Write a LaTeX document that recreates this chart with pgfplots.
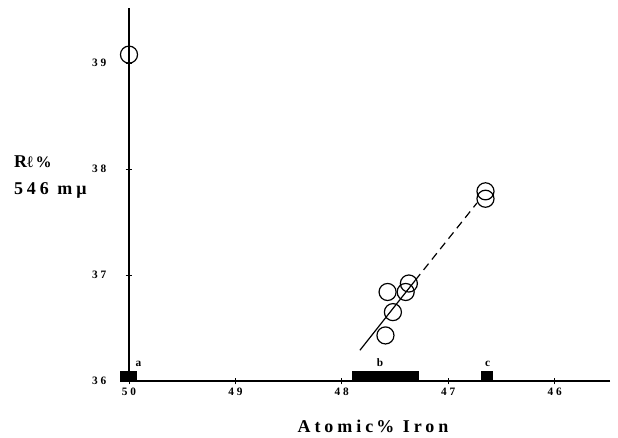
\documentclass[border=0pt]{standalone}
\usepackage{fontspec}
\setmainfont{Liberation Serif}
\usepackage{pgfplots}
\pgfplotsset{compat=1.18}
\newfontfamily\spaced[LetterSpace=22]{Liberation Serif}
\newfontfamily\tickf[LetterSpace=25]{Liberation Serif}

\begin{document}
\begin{tikzpicture}
\path[use as bounding box] (0,0) rectangle (463.5pt,328.5pt);
\begin{axis}[
    at={(96.75pt,42.75pt)}, anchor=south west,
    scale only axis, width=360.75pt, height=279.75pt,
    x dir=reverse,
    xmin=45.48, xmax=50, ymin=36, ymax=39.52,
    axis lines=left,
    axis line style={-},
    x axis line style={line width=1.6pt},
    y axis line style={line width=1pt},
    clip=false,
    xtick={50,49,48,47,46},
    xticklabels={50,49,48,47,46},
    ytick={36,37,38,39},
    tick align=center,
    major tick length=5pt,
    tick style={black, line width=0.6pt},
    tick label style={font=\tickf\bfseries\fontsize{8.5}{9}\selectfont},
    yticklabel style={xshift=-11pt},
    xticklabel style={yshift=1pt},
    /pgf/number format/assume math mode=true,
]
% composition ranges a, b, c
\addplot[fill=black, draw=black] coordinates {(50.085,36) (50.085,36.095) (49.93,36.095) (49.93,36)} -- cycle;
\addplot[fill=black, draw=black] coordinates {(47.90,36) (47.90,36.095) (47.28,36.095) (47.28,36)} -- cycle;
\addplot[fill=black, draw=black] coordinates {(46.69,36) (46.69,36.095) (46.59,36.095) (46.59,36)} -- cycle;
\node[font=\bfseries\fontsize{8.5}{9}\selectfont, anchor=south] at (axis cs:49.91,36.09) {a};
\node[font=\bfseries\fontsize{8.5}{9}\selectfont, anchor=south] at (axis cs:47.64,36.09) {b};
\node[font=\bfseries\fontsize{8.5}{9}\selectfont, anchor=south] at (axis cs:46.63,36.09) {c};
% fit lines
\addplot[black, line width=0.9pt] coordinates {(47.83,36.29) (47.31,36.95)};
\addplot[black, line width=0.9pt, dash pattern=on 6pt off 4pt] coordinates {(47.31,36.95) (46.73,37.68)};
% measurements
\addplot[only marks, mark=o, mark size=6.4pt, mark options={line width=0.9pt, fill=none}] coordinates {
(50.00,39.08) (46.65,37.79) (46.65,37.72) (47.57,36.84) (47.37,36.92)
(47.40,36.84) (47.52,36.65) (47.59,36.43)
};
\end{axis}
\node[anchor=base west, font=\spaced\bfseries\fontsize{13.5}{15}\selectfont] at (7pt,202.5pt) {R\fontsize{12}{12}\selectfont ℓ\,\%};
\node[anchor=base west, font=\spaced\bfseries\fontsize{13.5}{15}\selectfont] at (7pt,182.25pt) {546 mμ};
\node[anchor=base, font=\spaced\bfseries\fontsize{13.5}{15}\selectfont] at (279.75pt,4pt) {Atomic\,\% Iron};
\end{tikzpicture}
\end{document}
